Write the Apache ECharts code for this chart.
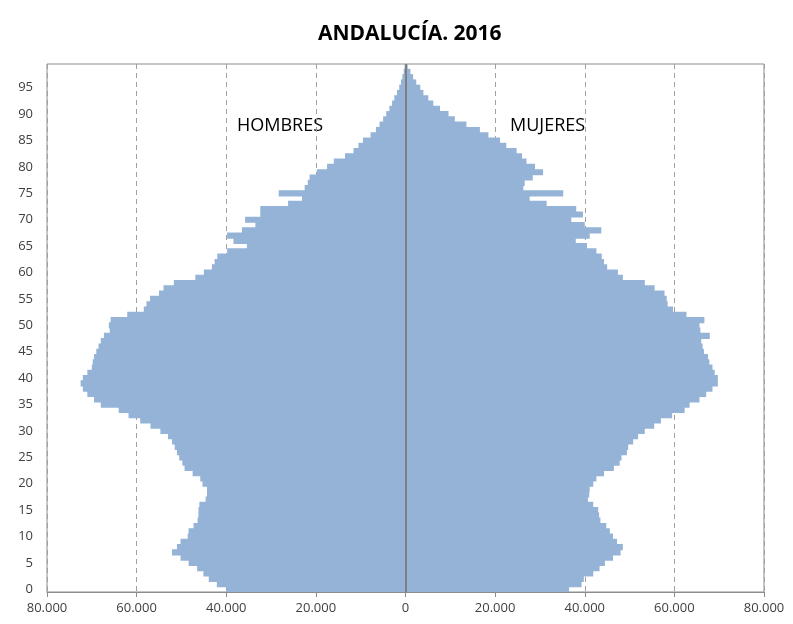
<!DOCTYPE html>
<html>
<head>
<meta charset="utf-8">
<script src="https://cdn.jsdelivr.net/npm/echarts@6/dist/echarts.min.js"></script>
<style>
    html, body {margin: 0; padding: 0; background: #ffffff;}
    #chart {width: 793px; height: 624px;}
</style>
</head>
<body>
<div id="chart"></div>
<script>
// 年龄 0..99
var edades = []
for (let i = 0; i < 100; i++) {
    edades.push(String(i))
}

// 男性 (千人)
var hombres = [
    40.0, 42.1, 43.9, 45.1, 46.5, 48.4, 50.2, 52.1, 51.0, 50.2,
    48.6, 48.4, 47.3, 46.4, 46.2, 46.2, 46.0, 44.6, 44.3, 44.3,
    45.3, 45.8, 47.5, 49.3, 49.8, 50.5, 51.0, 51.5, 52.1, 53.0,
    54.7, 56.9, 59.2, 61.8, 64.0, 68.0, 69.5, 71.0, 72.0, 72.5,
    72.0, 71.0, 70.0, 69.8, 69.5, 69.0, 68.5, 68.0, 67.3, 66.0,
    66.2, 65.8, 62.1, 58.4, 57.8, 57.0, 55.0, 54.0, 51.7, 46.9,
    45.0, 43.2, 42.6, 42.0, 39.8, 35.4, 38.4, 39.8, 36.5, 33.5,
    35.8, 32.4, 32.4, 26.2, 23.1, 28.3, 22.5, 21.8, 21.4, 19.8,
    17.5, 16.0, 13.5, 11.6, 10.5, 9.5, 7.8, 6.6, 5.8, 5.0,
    4.3, 3.6, 3.0, 2.5, 1.9, 1.4, 1.0, 0.7, 0.4, 0.2
]

// 女性 (千人)
var mujeres = [
    36.5, 39.3, 39.8, 41.9, 43.3, 44.5, 46.3, 48.0, 48.5, 47.2,
    46.3, 45.6, 44.8, 43.5, 43.2, 43.0, 41.9, 40.7, 41.0, 41.1,
    41.9, 42.6, 44.3, 46.5, 47.8, 48.2, 49.4, 49.7, 50.8, 51.9,
    53.4, 55.5, 57.0, 59.5, 62.3, 63.4, 65.6, 67.1, 68.5, 69.7,
    69.7, 69.0, 68.5, 67.8, 67.5, 66.6, 66.3, 66.0, 67.9, 65.8,
    65.6, 66.7, 62.7, 59.7, 58.5, 58.3, 57.8, 55.6, 53.4, 48.5,
    47.4, 45.0, 44.3, 43.8, 42.6, 40.5, 38.0, 41.1, 43.7, 40.0,
    37.0, 39.6, 38.1, 31.5, 27.7, 35.2, 26.3, 26.6, 28.4, 30.7,
    28.9, 27.0, 26.0, 24.8, 22.5, 21.1, 18.5, 16.6, 13.6, 11.0,
    9.6, 7.7, 6.2, 5.1, 4.0, 3.3, 2.4, 1.7, 1.1, 0.5
]

var hombresData = hombres.map(v => -Math.round(v * 1000))
var mujeresData = mujeres.map(v => Math.round(v * 1000))

function formatMiles(v) {
    let s = String(Math.abs(v))
    return s.replace(/\B(?=(\d{3})+(?!\d))/g, '.')
}

var chartDom = document.getElementById('chart');
var myChart = echarts.init(chartDom);
var option;

option = {
    animation: false,
    backgroundColor: '#ffffff',
    title: {
        text: 'ANDALUCÍA. 2016',
        left: 313,
        top: 19,
        textStyle: {
            color: '#000000',
            fontWeight: 'bold',
            fontFamily: 'Open Sans',
            fontSize: 21
        }
    },
    grid: {
        left: 47,
        right: 29,
        top: 64,
        bottom: 32,
        show: true,
        borderColor: '#8c8c8c',
        borderWidth: 1
    },
    xAxis: {
        type: 'value',
        min: -80000,
        max: 80000,
        interval: 20000,
        axisLine: {
            show: true,
            lineStyle: {color: '#8c8c8c', width: 1}
        },
        axisTick: {
            show: true,
            length: 5,
            lineStyle: {color: '#8c8c8c'}
        },
        axisLabel: {
            color: '#404040',
            fontFamily: 'Open Sans',
            fontSize: 13,
            margin: 10,
            formatter: formatMiles
        },
        splitLine: {
            show: true,
            lineStyle: {color: '#a0a0a0', type: [5, 4], width: 1}
        }
    },
    yAxis: {
        type: 'category',
        data: edades,
        axisLine: {show: false, onZero: false},
        axisTick: {show: false},
        axisLabel: {
            interval: 4,
            color: '#404040',
            fontFamily: 'Open Sans',
            fontSize: 13,
            margin: 14
        },
        splitLine: {show: false}
    },
    graphic: [
        {
            type: 'text',
            left: 237,
            top: 117,
            style: {text: 'HOMBRES', fill: '#000000', font: '18px "Open Sans"'}
        },
        {
            type: 'text',
            left: 510,
            top: 117,
            style: {text: 'MUJERES', fill: '#000000', font: '18px "Open Sans"'}
        }
    ],
    series: [
        {
            name: 'Hombres',
            type: 'bar',
            stack: 'total',
            data: hombresData,
            barWidth: 6.2,
            itemStyle: {color: '#95b3d7'}
        },
        {
            name: 'Mujeres',
            type: 'bar',
            stack: 'total',
            data: mujeresData,
            barWidth: 6.2,
            itemStyle: {color: '#95b3d7'},
            markLine: {
                silent: true,
                symbol: 'none',
                label: {show: false},
                lineStyle: {color: '#7f7f7f', type: 'solid', width: 2},
                data: [{xAxis: 0}]
            }
        }
    ]
};

option && myChart.setOption(option);
</script>
</body>
</html>
